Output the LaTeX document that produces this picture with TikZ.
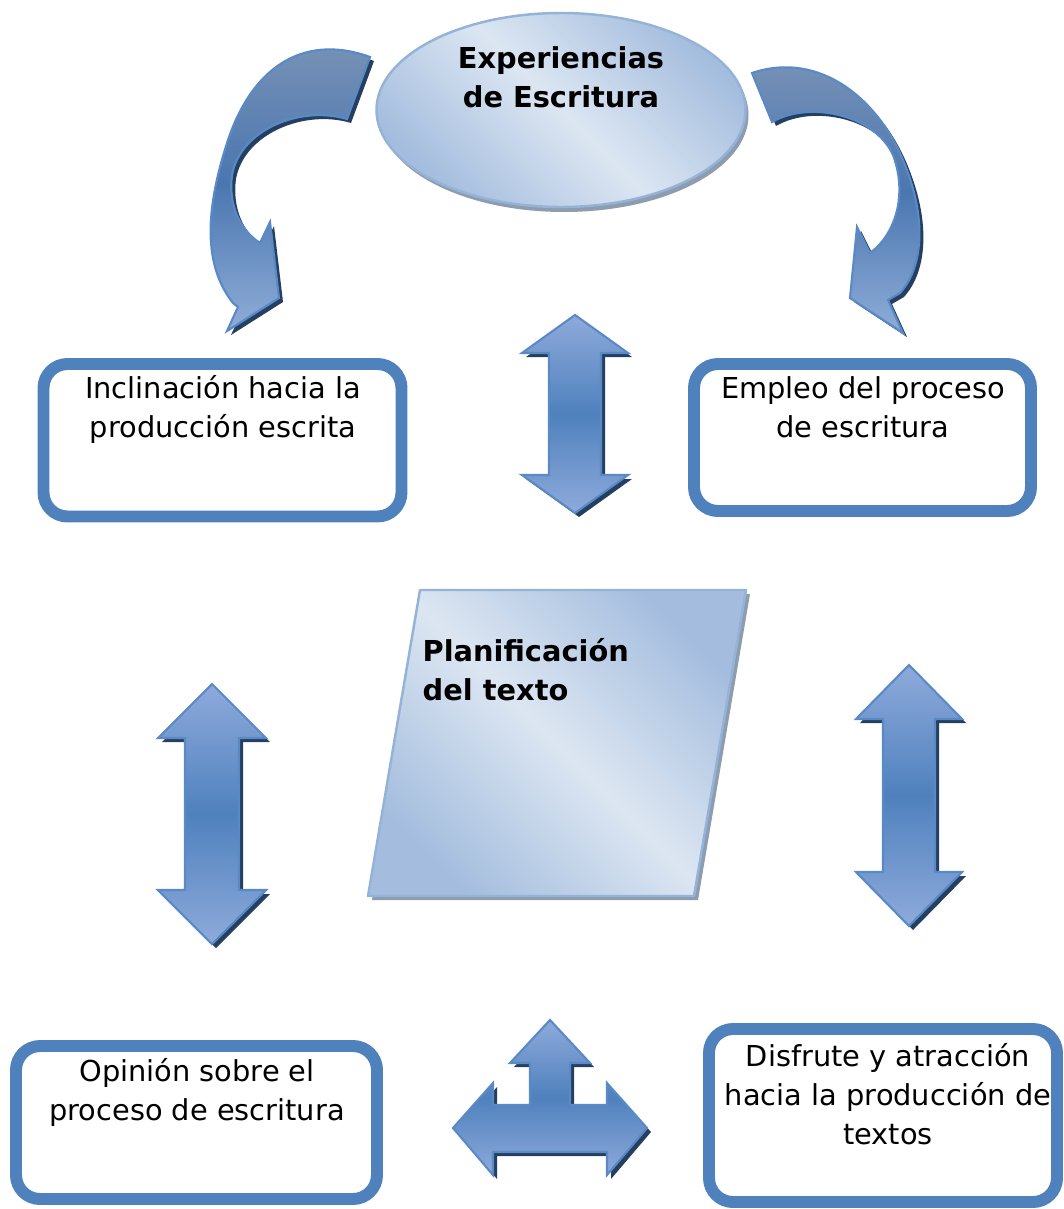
\documentclass[tikz,border=0pt]{standalone}
\usepackage{fontspec}
\setmainfont{DejaVu Sans}
\usetikzlibrary{calc}

\definecolor{azulborde}{HTML}{4F81BD}
\definecolor{flechaclara}{HTML}{8EAADB}
\definecolor{flechamedia}{HTML}{4F81BD}
\definecolor{flechalinea}{HTML}{5A8AC6}
\definecolor{flechasombra}{HTML}{243F60}
\definecolor{curvaarriba}{HTML}{7A93B6}
\definecolor{curvamedia}{HTML}{4A76B0}
\definecolor{curvaabajo}{HTML}{8FADD8}
\definecolor{formaoscura}{HTML}{A4BDDE}
\definecolor{formaclara}{HTML}{DCE6F2}
\definecolor{formalinea}{HTML}{95B3D7}
\definecolor{formagris}{HTML}{8E9CB0}

\tikzset{
  caja/.style={draw=azulborde, line width=3.4pt, rounded corners=0.24cm, fill=white},
  texto/.style={font=\fontsize{8.2}{11}\selectfont, align=center, inner sep=0pt},
  titulo/.style={texto, font=\fontsize{8.2}{11}\selectfont\bfseries},
  sombra/.style={fill=flechasombra, draw=none, shift={(4,4)}},
  flecha/.style={draw=flechalinea, line width=0.6pt, line join=miter,
    top color=flechaclara, bottom color=flechaclara, middle color=flechamedia},
  curva/.style={flecha, top color=curvaarriba, bottom color=curvaabajo, middle color=curvamedia},
  forma/.style={draw=formalinea, line width=0.7pt, top color=formaoscura,
    bottom color=formaoscura, middle color=formaclara, shading angle=-45},
  formasombra/.style={fill=formagris, draw=none},
}

\begin{document}
\begin{tikzpicture}[x=0.01cm, y=-0.01cm, line join=round]

\useasboundingbox (0,0) rectangle (1063,1209);

% \bloque{estilo}{camino}: sombra oscura y relleno degradado
\newcommand{\bloque}[2]{%
  \fill[sombra] #2;
  \path[#1] #2;
}

% \dobleflecha{x}{arriba}{abajo}{media anchura}{medio eje}{punta}
\newcommand{\dobleflecha}[6]{%
  \bloque{flecha}{(#1,#2) -- ({#1+#4},{#2+#6}) -- ({#1+#5},{#2+#6})
    -- ({#1+#5},{#3-#6}) -- ({#1+#4},{#3-#6}) -- (#1,#3)
    -- ({#1-#4},{#3-#6}) -- ({#1-#5},{#3-#6}) -- ({#1-#5},{#2+#6})
    -- ({#1-#4},{#2+#6}) -- cycle}%
}

% elipse superior
\fill[formasombra] (564,115) ellipse [x radius=184.5, y radius=97];
\path[forma] (561,110) ellipse [x radius=184.5, y radius=97];
\node[titulo, anchor=base] (experiencias) at (561,107) {Experiencias\\de Escritura};

% flechas curvas
\bloque{curva}{(370,57) .. controls (310,35) and (255,60) .. (228,140)
  .. controls (205,210) and (203,265) .. (233,303) -- (238,307) -- (227,331) -- (279,298)
  -- (270,222) -- (260,243) .. controls (240,230) and (228,205) .. (232,175)
  .. controls (240,130) and (300,105) .. (347,119) -- cycle}
\bloque{curva}{(752,73) .. controls (820,50) and (880,100) .. (905,165)
  .. controls (925,215) and (925,265) .. (900,293) -- (888,300) -- (903,333) -- (850,298)
  -- (857,227) -- (870,253) .. controls (895,235) and (908,195) .. (893,155)
  .. controls (875,115) and (810,100) .. (772,122) -- cycle}

% cajas
\draw[caja] (43.5,364) rectangle (401.5,516.5);
\draw[caja] (694,364) rectangle (1031,511);
\draw[caja] (16,1046) rectangle (377,1199);
\draw[caja] (709,1029) rectangle (1057,1202);
\node[texto, anchor=base] (inclinacion) at (223,437) {Inclinación hacia la\\producción escrita};
\node[texto, anchor=base] (empleo) at (863,437) {Empleo del proceso\\de escritura};
\node[texto, anchor=base] (opinion) at (197,1120) {Opinión sobre el\\proceso de escritura};
\node[texto, anchor=base] (disfrute) at (888,1144) {Disfrute y atracción\\hacia la producción de\\textos};

% paralelogramo central
\fill[formasombra] (424,594) -- (750,594) -- (698,900) -- (372,900) -- cycle;
\path[forma] (420,590) -- (746,590) -- (694,896) -- (368,896) -- cycle;
\node[titulo, align=left, anchor=base west] (planificacion) at (422,700) {Planificación\\del texto};

% flechas dobles
\dobleflecha{575}{315}{513}{53}{26}{38}
\dobleflecha{212}{684}{944}{54}{27}{54}
\dobleflecha{909}{665}{926}{53}{26}{54}

% flecha de tres puntas
\bloque{flecha}{(550,1020) -- (590,1063) -- (570,1063) -- (570,1105) -- (607,1105)
  -- (607,1083) -- (647,1128) -- (607,1175) -- (607,1152) -- (493,1152) -- (493,1175)
  -- (453,1128) -- (493,1083) -- (493,1105) -- (530,1105) -- (530,1063) -- (510,1063) -- cycle}

\end{tikzpicture}
\end{document}
